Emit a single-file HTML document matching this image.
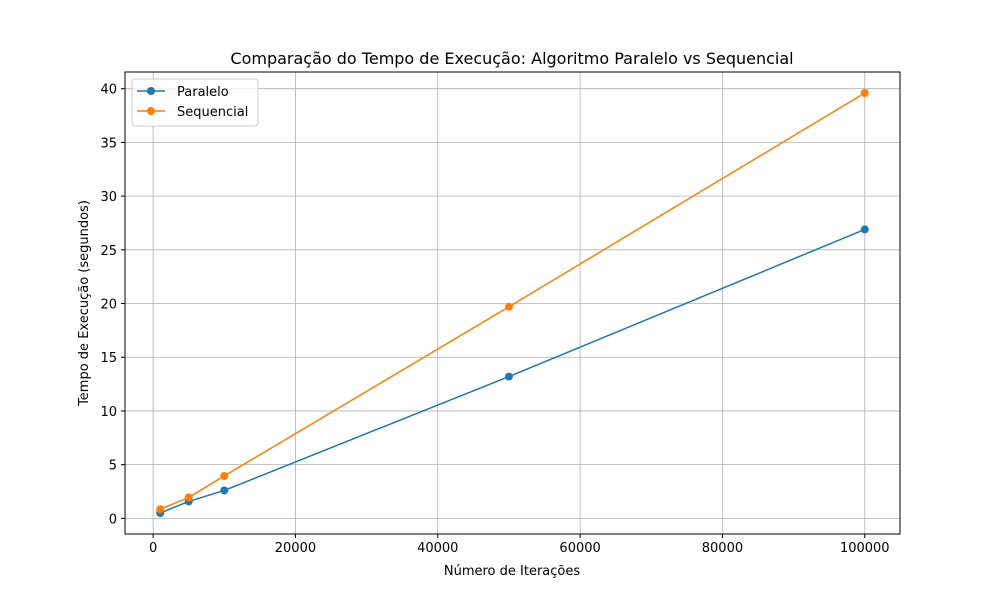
<!DOCTYPE html>
<html><head><meta charset="utf-8"><style>
body{margin:0;background:#fff;}
svg text{font-family:"DejaVu Sans","Liberation Sans",sans-serif;fill:#000;}
</style></head><body>
<svg id="chart" width="1000" height="600" viewBox="0 0 1000 600">
<rect x="0" y="0" width="1000" height="600" fill="#fff"/>
<g id="grid"></g>
<g id="ticks"></g>
<g id="series"></g>
<rect x="125" y="72" width="775" height="462" fill="none" stroke="#000" stroke-width="1"/>
<text x="512" y="64" font-size="16" text-anchor="middle">Comparação do Tempo de Execução: Algoritmo Paralelo vs Sequencial</text>
<text x="512" y="575" font-size="13" text-anchor="middle">Número de Iterações</text>
<text x="88" y="303" font-size="13" text-anchor="middle" transform="rotate(-90 88 303)">Tempo de Execução (segundos)</text>
<g>
<rect x="132" y="79" width="126" height="47" rx="3" fill="#fff" fill-opacity="0.8" stroke="#ccc"/>
<g>
<line x1="137" y1="91" x2="165" y2="91" stroke="#1f77b4" stroke-width="1.5"/><circle cx="151" cy="91" r="4" fill="#1f77b4"/>
<text x="177" y="96" font-size="13">Paralelo</text></g>
<g>
<line x1="137" y1="111" x2="165" y2="111" stroke="#ff7f0e" stroke-width="1.5"/><circle cx="151" cy="111" r="4" fill="#ff7f0e"/>
<text x="177" y="116" font-size="13">Sequencial</text></g>
</g>
</svg>
<script>
const iterations=[1000,5000,10000,50000,100000];
const paralelo=[0.5,1.58,2.6,13.2,26.9];
const sequencial=[0.85,1.95,3.95,19.7,39.6];
const xTicks=[0,20000,40000,60000,80000,100000];
const yTicks=[0,5,10,15,20,25,30,35,40];
const NS="http://www.w3.org/2000/svg";
const L=125,R=900,T=72,B=534;
const all=paralelo.concat(sequencial);
const xr=Math.max(...iterations)-Math.min(...iterations);
const xmin=Math.min(...iterations)-0.05*xr,xmax=Math.max(...iterations)+0.05*xr;
const yr=Math.max(...all)-Math.min(...all);
const ymin=Math.min(...all)-0.05*yr,ymax=Math.max(...all)+0.05*yr;
const X=v=>L+(v-xmin)/(xmax-xmin)*(R-L);
const Y=v=>B-(v-ymin)/(ymax-ymin)*(B-T);
function mk(tag,attrs,parent){const e=document.createElementNS(NS,tag);for(const k in attrs)e.setAttribute(k,attrs[k]);document.getElementById(parent).appendChild(e);return e;}
xTicks.forEach(t=>{const x=X(t);
const g=mk('line',{x1:x,x2:x,y1:T,y2:B,stroke:'#b0b0b0','stroke-width':0.8},'grid');


mk('line',{x1:x,x2:x,y1:B,y2:B+4,stroke:'#000'},'ticks');
const tx=mk('text',{x:x,y:B+18,'font-size':13,'text-anchor':'middle'},'ticks');tx.textContent=t;

});
yTicks.forEach(t=>{const y=Y(t);
const g=mk('line',{x1:L,x2:R,y1:y,y2:y,stroke:'#b0b0b0','stroke-width':0.8},'grid');


mk('line',{x1:L-4,x2:L,y1:y,y2:y,stroke:'#000'},'ticks');
const tx=mk('text',{x:L-8,y:y+5,'font-size':13,'text-anchor':'end'},'ticks');tx.textContent=t;

});
[[paralelo,'#1f77b4','paralelo'],[sequencial,'#ff7f0e','sequencial']].forEach(([d,c,n])=>{
const pl=mk('polyline',{points:d.map((v,i)=>X(iterations[i])+','+Y(v)).join(' '),fill:'none',stroke:c,'stroke-width':1.5},'series');


d.forEach((v,i)=>{const p=mk('circle',{cx:X(iterations[i]),cy:Y(v),r:4,fill:c},'series');

});});
</script>
</body></html>
